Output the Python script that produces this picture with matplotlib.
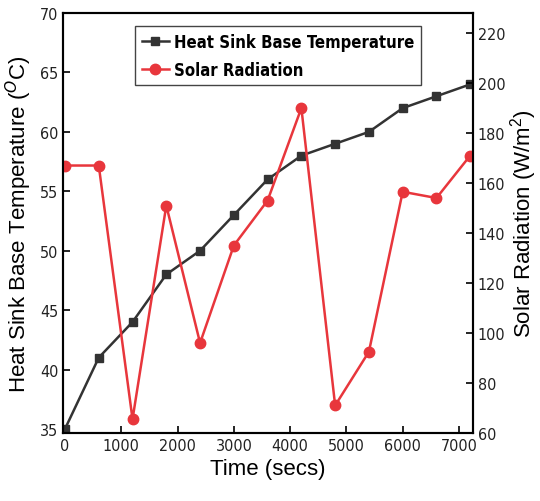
import matplotlib as mpl
mpl.use('Agg')
import matplotlib.pyplot as plt
from matplotlib import font_manager

time_s = [0, 600, 1200, 1800, 2400, 3000, 3600, 4200, 4800, 5400, 6000, 6600, 7200]
temp_c = [35, 41, 44, 48, 50, 53, 56, 58, 59, 60, 62, 63, 64]
solar_w = [167, 167, 65.5, 151, 96, 135, 153, 190, 71, 92.5, 156.5, 154, 171]

fonts = font_manager.fontManager.ttflist
cond = [f for f in fonts if 'condensed' in str(f.stretch) or 'Narrow' in f.name]
narrow = cond[0].name if cond else None

plt.rcParams['font.family'] = ['Liberation Sans', 'DejaVu Sans']
plt.rcParams['mathtext.fontset'] = 'custom'
plt.rcParams['mathtext.rm'] = 'Liberation Sans'

black = '#333333'
red = '#e8363c'

fig = plt.figure(figsize=(5.4, 5.02), dpi=100)
ax = fig.add_axes([0.1167, 0.1355, 0.7593, 0.8365])
ax2 = ax.twinx()

l1, = ax.plot(time_s, temp_c, color=black, marker='s', markersize=6, lw=1.8,
              label='Heat Sink Base Temperature')
l2, = ax2.plot(time_s, solar_w, color=red, marker='o', markersize=7.5, lw=1.8,
               label='Solar Radiation')

ax.set_xlim(-35, 7250)
ax.set_ylim(34.66, 70)
ax2.set_ylim(60, 228)
ax.set_xticks(range(0, 7001, 1000))
ax.set_yticks(range(35, 71, 5))
ax2.set_yticks(range(60, 221, 20))

for a in (ax, ax2):
    for s in a.spines.values():
        s.set_linewidth(1.5)
        s.set_color('black')
ax.tick_params(axis='both', direction='in', length=5, width=1.2, top=False, labelsize=11.5)
ax2.tick_params(axis='y', direction='in', length=5, width=1.2, labelsize=11.5)
for lab in ax.get_xticklabels() + ax.get_yticklabels() + ax2.get_yticklabels():
    if narrow:
        lab.set_fontfamily(narrow)
        lab.set_fontstretch('condensed')
    lab.set_color('#222222')

ax.set_xlabel('Time (secs)', fontsize=16)
ax.set_ylabel('Heat Sink Base Temperature ($^{O}$C)', fontsize=16, labelpad=4)
ax2.set_ylabel('Solar Radiation (W/m$^{2}$)', fontsize=16, labelpad=2)

if narrow:
    prop = {'family': narrow, 'stretch': 'condensed', 'weight': 'bold', 'size': 12}
else:
    prop = {'weight': 'bold', 'size': 12}
leg = ax.legend(handles=[l1, l2], loc='upper left', bbox_to_anchor=(0.176, 0.969),
                prop=prop, fancybox=False, edgecolor='#444444', framealpha=1,
                handlelength=1.6, borderpad=0.4, labelspacing=0.6, handletextpad=0.35,
                borderaxespad=0)
leg.get_frame().set_linewidth(1.0)

fig.savefig('out.png', dpi=100)
